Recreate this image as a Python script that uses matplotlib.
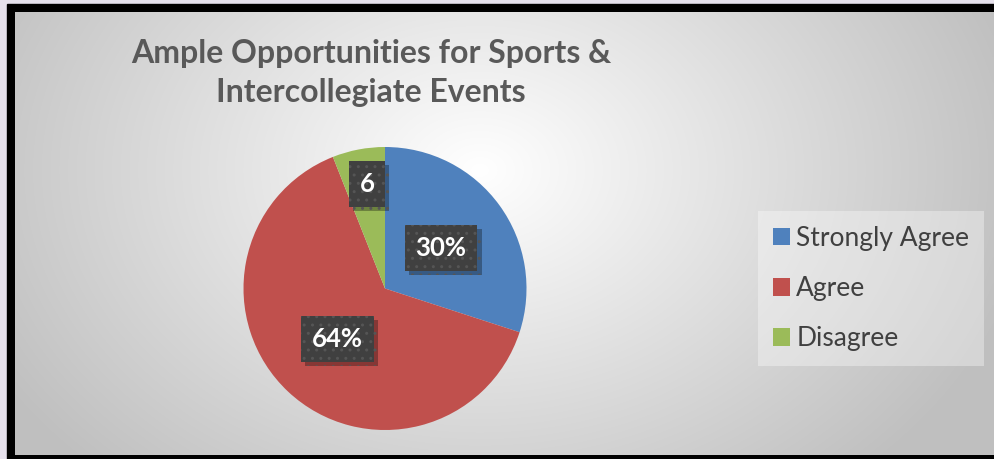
import numpy as np
import matplotlib.pyplot as plt
from matplotlib.patches import Rectangle, Patch
import matplotlib.patheffects as pe

plt.rcParams['font.family'] = ['Lato', 'DejaVu Sans']

# data
categories = ['Strongly Agree', 'Agree', 'Disagree']
shares = [30, 64, 6]
box_labels = ['30%', '64%', '6']
colors = ['#4F81BD', '#C0504D', '#9BBB59']
title = 'Ample Opportunities for Sports &\nIntercollegiate Events'

W, H = 994, 459
fig = plt.figure(figsize=(W / 100, H / 100), dpi=100)

###############
# background  #
###############
bg = fig.add_axes([0, 0, 1, 1])
bg.set_xlim(0, W)
bg.set_ylim(H, 0)
bg.axis('off')
bg.add_patch(Rectangle((0, 0), W, H, color='#E6E1EC', zorder=0))
bg.add_patch(Rectangle((7, 4), W, H, color='black', zorder=1))

x0, y0, x1, y1 = 15, 12, W, 455
xx, yy = np.meshgrid(np.linspace(x0, x1, 400), np.linspace(y0, y1, 200))
d = np.sqrt(((xx - 480) / 560) ** 2 + ((yy - 170) / 420) ** 2)
d = np.clip(d, 0, 1)
v = 1.0 - (1.0 - 0.75) * d
img = np.dstack([v, v, v])
bg.imshow(img, extent=[x0, x1, y1, y0], aspect='auto', zorder=2,
          interpolation='bilinear')
bg.set_xlim(0, W)
bg.set_ylim(H, 0)

bg.text(371, 73, title, ha='center', va='center', fontsize=23,
        fontweight='bold', color='#595959', linespacing=1.4, zorder=3)

#######
# pie #
#######
cx, cy, r = 385, 288.5, 141.5
ax = fig.add_axes([(cx - r) / W, (H - cy - r) / H, 2 * r / W, 2 * r / H])
wedges, _ = ax.pie(shares, colors=colors, startangle=90, counterclock=False,
                   radius=1, wedgeprops=dict(linewidth=0))
ax.set_xlim(-1, 1)
ax.set_ylim(-1, 1)
ax.set_aspect('equal')
ax.axis('off')

# label placement (radius, angle shift in degrees)
label_pos = [(0.49, 0), (0.49, 0), (0.75, -1)]
for w, lab, (rr, da) in zip(wedges, box_labels, label_pos):
    ang = np.deg2rad((w.theta1 + w.theta2) / 2 + da)
    tx, ty = rr * np.cos(ang), rr * np.sin(ang)
    t = ax.text(tx, ty, lab, ha='center', va='center', fontsize=18.5,
                fontweight='bold', color='white',
                bbox=dict(boxstyle='square,pad=0.42', facecolor='#404040',
                          edgecolor='#555555', hatch='..', linewidth=0))
    t.get_bbox_patch().set_path_effects(
        [pe.SimplePatchShadow(offset=(3, -3), shadow_rgbFace='black', alpha=0.3),
         pe.Normal()])

##########
# legend #
##########
handles = [Patch(facecolor=c, edgecolor='none') for c in colors]
leg = fig.legend(handles, categories, loc='center left',
                 bbox_to_anchor=(758 / W, 1 - 288.5 / H), fontsize=19,
                 frameon=True, fancybox=False, handlelength=0.65,
                 handleheight=0.65, handletextpad=0.25, labelspacing=0.95,
                 borderpad=0.55, borderaxespad=0)
leg.get_frame().set_facecolor('white')
leg.get_frame().set_alpha(0.35)
leg.get_frame().set_linewidth(0)
for t in leg.get_texts():
    t.set_color('#404040')

fig.savefig('out.png', dpi=100)
